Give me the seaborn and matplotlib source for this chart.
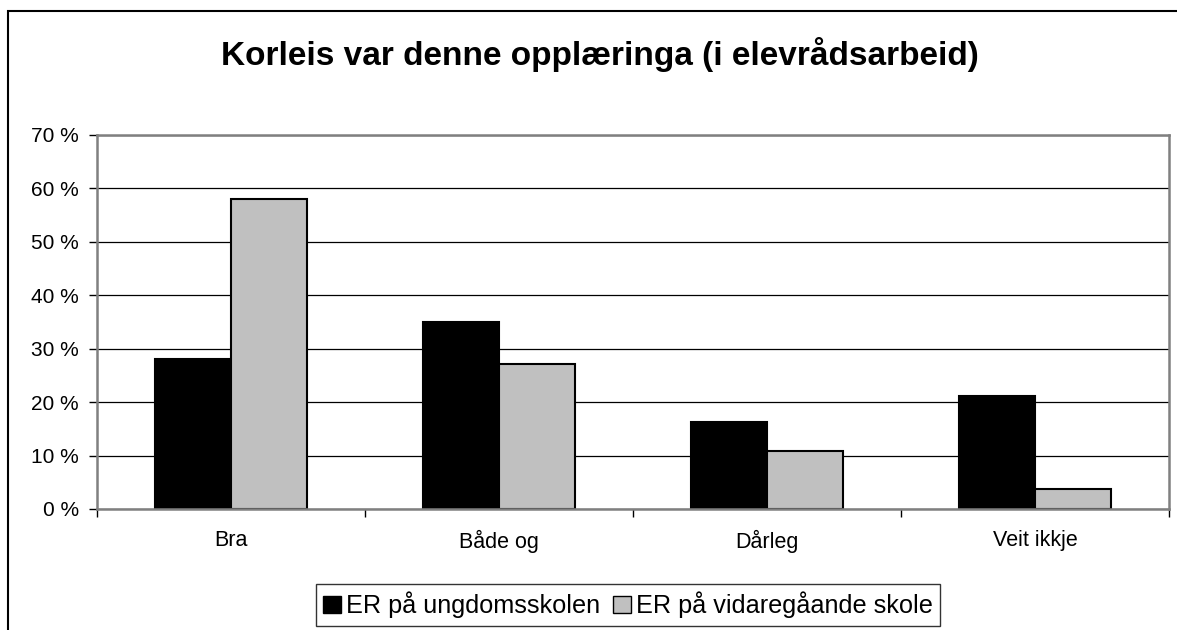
import pandas as pd
import seaborn as sns
import matplotlib.pyplot as plt
from matplotlib.patches import Rectangle, Patch
from matplotlib.ticker import FixedLocator, FuncFormatter

# ── data ─────────────────────────────────────────────────────
categories = ["Bra", "Både og", "Dårleg", "Veit ikkje"]
series_names = ["ER på ungdomsskolen", "ER på vidaregåande skole"]
ungdom = [28.0, 35.0, 16.3, 21.1]
vidaregaande = [58.1, 27.1, 10.9, 3.8]
colors = ["#000000", "#c0c0c0"]

df = pd.DataFrame({
    "Kategori": categories * 2,
    "Serie": [series_names[0]] * 4 + [series_names[1]] * 4,
    "Prosent": ungdom + vidaregaande,
})

sns.set_theme(style="white")
plt.rcParams["font.family"] = ["Liberation Sans", "DejaVu Sans"]
plt.rcParams["text.color"] = "black"
plt.rcParams["xtick.color"] = "black"
plt.rcParams["ytick.color"] = "black"

fig = plt.figure(figsize=(11.77, 6.30), dpi=100)
ax = fig.add_axes([97 / 1177, 1 - 509 / 630, (1169 - 97) / 1177, (509 - 135) / 630])

sns.barplot(data=df, x="Kategori", y="Prosent", hue="Serie",
            order=categories, hue_order=series_names,
            palette=colors, width=0.567, gap=0, saturation=1,
            edgecolor="black", linewidth=1.5, legend=False, ax=ax)

ax.set_ylim(0, 70)
ax.set_xlim(-0.5, 3.5)
ax.set_yticks(range(0, 71, 10))
ax.yaxis.set_major_formatter(FuncFormatter(lambda v, p: f"{int(v)} %"))
ax.grid(axis="y", color="black", linewidth=0.9)
ax.set_axisbelow(True)
ax.set_xlabel("")
ax.set_ylabel("")

# category ticks at boundaries, labels centred
ax.xaxis.set_minor_locator(FixedLocator([-0.5, 0.5, 1.5, 2.5, 3.5]))
ax.tick_params(axis="x", which="major", length=0, labelsize=15.5, pad=15)
ax.tick_params(axis="x", which="minor", length=6, width=1, color="black",
               direction="out", bottom=True)
ax.tick_params(axis="y", length=6, width=1, color="black", direction="out",
               left=True, labelsize=15, pad=7)

for sp in ax.spines.values():
    sp.set_color("#808080")
    sp.set_linewidth(1.8)

fig.text(600 / 1177, 1 - 55 / 630, "Korleis var denne opplæringa (i elevrådsarbeid)",
         ha="center", va="center", fontsize=24, fontweight="bold")

handles = [Patch(facecolor=c, edgecolor="black", linewidth=1) for c in colors]
leg = fig.legend(handles, series_names, loc="center",
                 bbox_to_anchor=(628 / 1177, 1 - 605 / 630), ncol=2,
                 fontsize=18.2, frameon=True, fancybox=False,
                 handlelength=0.7, handleheight=0.7, handletextpad=0.2,
                 columnspacing=0.5, borderpad=0.3, borderaxespad=0)
leg.get_frame().set_edgecolor("black")
leg.get_frame().set_linewidth(1)

# outer chart frame (runs off right and bottom edges)
fig.add_artist(Rectangle((8 / 1177, -0.1), 1.2, 1 - 11 / 630 + 0.1,
                         transform=fig.transFigure, fill=False,
                         edgecolor="black", linewidth=1.5))

fig.savefig("out.png", dpi=100)
